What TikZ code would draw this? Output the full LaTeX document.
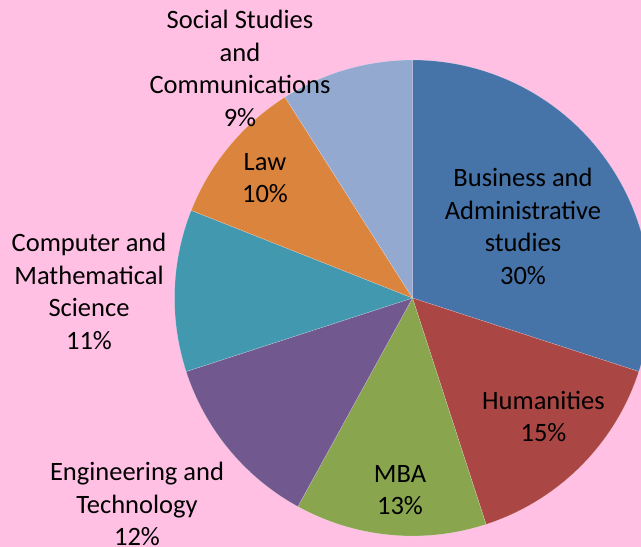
\documentclass[tikz,border=0pt]{standalone}
\usepackage{fontspec}
\setmainfont{Carlito}
\definecolor{bg}{HTML}{FFC0E3}
\definecolor{cBus}{HTML}{4673A8}
\definecolor{cHum}{HTML}{AA4643}
\definecolor{cMBA}{HTML}{89A54E}
\definecolor{cEng}{HTML}{71588F}
\definecolor{cCom}{HTML}{4298AF}
\definecolor{cLaw}{HTML}{DB843D}
\definecolor{cSoc}{HTML}{93A9CF}
\begin{document}
\begin{tikzpicture}[x=1pt,y=1pt,
  slice/.style={draw=white,draw opacity=0.5,line width=0.25pt},
  lbl/.style={align=center,inner sep=0pt,font=\fontsize{26.5}{32.5}\selectfont,text=black}]
\useasboundingbox (0,0) rectangle (641,547);
\fill[bg] (0,0) rectangle (641,547);
\clip (0,0) rectangle (641,547);
\coordinate (c) at (412.5,249);
\def\R{238}
\fill[cBus,slice] (c) -- ++(90:\R) arc[start angle=90,end angle=-18,radius=\R] -- cycle;
\fill[cHum,slice] (c) -- ++(-18:\R) arc[start angle=-18,end angle=-72,radius=\R] -- cycle;
\fill[cMBA,slice] (c) -- ++(-72:\R) arc[start angle=-72,end angle=-118.8,radius=\R] -- cycle;
\fill[cEng,slice] (c) -- ++(-118.8:\R) arc[start angle=-118.8,end angle=-162,radius=\R] -- cycle;
\fill[cCom,slice] (c) -- ++(-162:\R) arc[start angle=-162,end angle=-201.6,radius=\R] -- cycle;
\fill[cLaw,slice] (c) -- ++(-201.6:\R) arc[start angle=-201.6,end angle=-237.6,radius=\R] -- cycle;
\fill[cSoc,slice] (c) -- ++(-237.6:\R) arc[start angle=-237.6,end angle=-270,radius=\R] -- cycle;
\node[lbl] (soc) at (240,478.5) {Social Studies\\and\\Communications\\9\%};
\node[lbl] (law) at (265,369) {Law\\10\%};
\node[lbl] (bus) at (523,320.5) {Business and\\Administrative\\studies\\30\%};
\node[lbl] (hum) at (543.5,130.5) {Humanities\\15\%};
\node[lbl] (mba) at (400,57) {MBA\\13\%};
\node[lbl] (eng) at (137,43) {Engineering and\\Technology\\12\%};
\node[lbl] (com) at (89,255.5) {Computer and\\Mathematical\\Science\\11\%};
\end{tikzpicture}
\end{document}
